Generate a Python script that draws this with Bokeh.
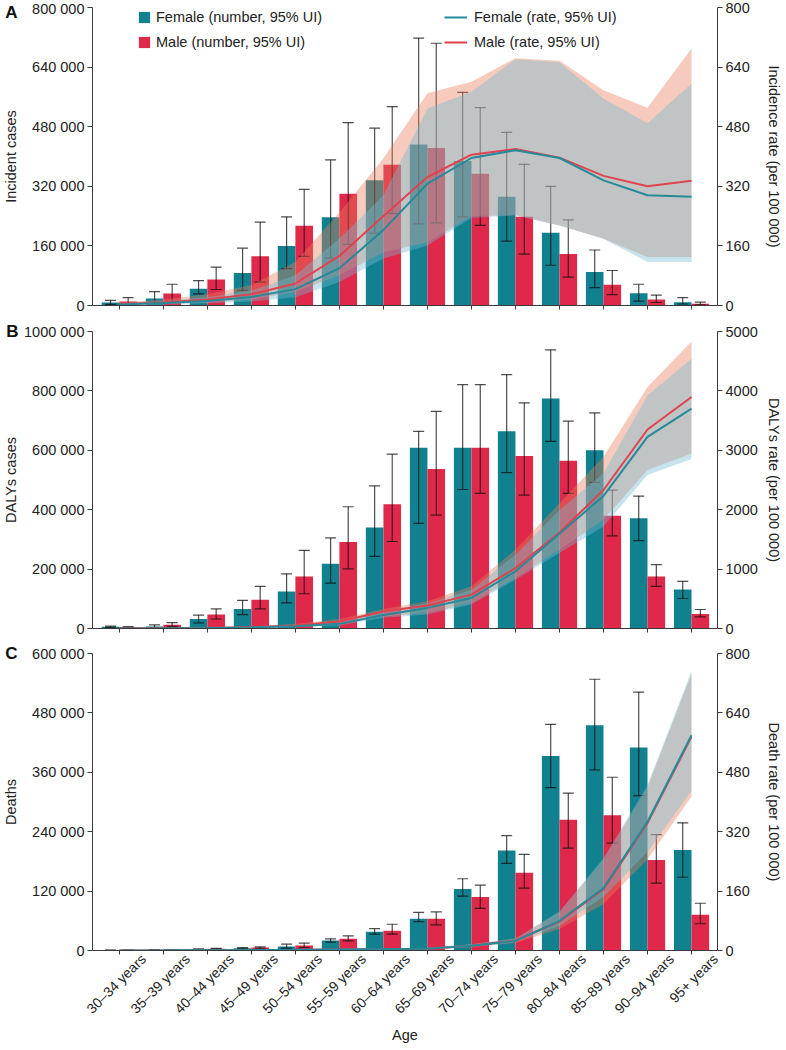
import math
from bokeh.plotting import figure
from bokeh.models import (ColumnDataSource, Range1d, LinearAxis, FixedTicker,
                          Legend, LegendItem)
from bokeh.layouts import column
from bokeh.transform import dodge
from bokeh.embed import file_html
from bokeh.resources import INLINE

# ---------------- data ----------------
ages = ["30–34 years", "35–39 years", "40–44 years", "45–49 years", "50–54 years",
        "55–59 years", "60–64 years", "65–69 years", "70–74 years", "75–79 years",
        "80–84 years", "85–89 years", "90–94 years", "95+ years"]

# Panel A: incidence
inc_f = [8000, 19000, 45000, 87000, 160000, 237000, 336000, 432000, 388000, 292000, 195000, 90000, 33000, 9000]
inc_f_lo = [3000, 8000, 31000, 41000, 99000, 127000, 194000, 219000, 238000, 173000, 108000, 48000, 12000, 4000]
inc_f_hi = [14000, 37000, 67000, 154000, 238000, 391000, 476000, 718000, 572000, 465000, 320000, 149000, 57000, 21000]
inc_m = [11000, 32000, 70000, 132000, 214000, 300000, 378000, 423000, 354000, 238000, 138000, 56000, 16000, 4500]
inc_m_lo = [4000, 9000, 43000, 63000, 132000, 164000, 247000, 222000, 215000, 138000, 76000, 29000, 8000, 2000]
inc_m_hi = [21000, 57000, 103000, 224000, 312000, 491000, 534000, 704000, 531000, 379000, 230000, 94000, 28000, 9000]
inc_rate_f = [3, 7, 12, 23, 44, 100, 203, 327, 396, 417, 396, 336, 296, 292]
inc_rate_f_lo = [1, 3, 6, 11, 22, 63, 126, 161, 235, 242, 215, 179, 117, 117]
inc_rate_f_hi = [6, 12, 22, 40, 81, 180, 296, 529, 574, 661, 653, 556, 489, 596]
inc_rate_m = [4, 8, 16, 30, 59, 133, 240, 345, 405, 420, 397, 348, 320, 335]
inc_rate_m_lo = [2, 4, 8, 16, 36, 81, 143, 170, 240, 242, 215, 179, 130, 130]
inc_rate_m_hi = [8, 16, 30, 55, 117, 250, 395, 570, 601, 664, 657, 578, 531, 690]

# Panel B: DALYs
daly_f = [6000, 7000, 32000, 66000, 125000, 218000, 340000, 609000, 609000, 664000, 774000, 600000, 371000, 131000]
daly_f_lo = [4000, 3000, 19000, 47000, 86000, 153000, 243000, 354000, 468000, 525000, 630000, 492000, 296000, 101000]
daly_f_hi = [8000, 12500, 45000, 95000, 184000, 305000, 480000, 664000, 821000, 855000, 938000, 726000, 446000, 159000]
daly_m = [4500, 13000, 47000, 97000, 175000, 291000, 418000, 537000, 609000, 581000, 565000, 380000, 175000, 49000]
daly_m_lo = [3000, 7000, 32000, 66000, 117000, 201000, 293000, 382000, 455000, 449000, 455000, 312000, 142000, 39000]
daly_m_hi = [6000, 20000, 66000, 142000, 263000, 410000, 587000, 731000, 821000, 760000, 698000, 466000, 215000, 64000]
daly_rate_f = [2, 4, 8, 18, 38, 78, 229, 347, 515, 962, 1594, 2232, 3227, 3702]
daly_rate_f_lo = [1, 2, 4, 10, 22, 50, 179, 235, 403, 822, 1270, 1717, 2584, 2852]
daly_rate_f_hi = [3, 6, 12, 28, 58, 110, 300, 420, 654, 1242, 1997, 2612, 3926, 4541]
daly_rate_m = [3, 5, 10, 24, 50, 117, 285, 386, 570, 1018, 1616, 2332, 3350, 3898]
daly_rate_m_lo = [2, 3, 6, 14, 30, 75, 200, 260, 430, 850, 1325, 1829, 2668, 2947]
daly_rate_m_hi = [4, 8, 15, 35, 75, 160, 330, 459, 710, 1325, 2108, 2891, 4066, 4832]

# Panel C: deaths
death_f = [500, 1000, 2700, 4700, 8000, 20000, 38000, 64000, 124000, 202000, 393000, 455000, 410000, 203000]
death_f_lo = [300, 700, 2000, 3500, 4700, 17000, 33000, 58500, 110000, 176000, 329000, 365000, 313000, 148000]
death_f_hi = [800, 1400, 3500, 6000, 12800, 23500, 44000, 77000, 145000, 232000, 457000, 548000, 522000, 258000]
death_m = [400, 1200, 3400, 6000, 10000, 23500, 40000, 64000, 108000, 157000, 264000, 273000, 183000, 72000]
death_m_lo = [200, 800, 2500, 4500, 6000, 19500, 33000, 51800, 85000, 126000, 207000, 217000, 136000, 54000]
death_m_hi = [700, 1700, 4300, 7500, 14800, 29600, 53000, 78000, 132000, 194000, 318000, 350000, 234000, 95500]
death_rate_f = [0.3, 0.6, 1, 1.5, 2, 3, 4, 5, 13, 26, 80, 168, 347, 580]
death_rate_f_lo = [0.1, 0.3, 0.6, 1, 1.4, 2, 3, 4, 10, 22, 66, 145, 265, 430]
death_rate_f_hi = [0.5, 1, 1.5, 2.2, 3, 4, 6, 7, 17, 32, 106, 249, 446, 753]
death_rate_m = [0.3, 0.6, 1, 1.5, 2, 3, 4, 5, 13, 27, 78, 165, 343, 576]
death_rate_m_lo = [0.1, 0.3, 0.5, 0.8, 1.2, 1.8, 2.5, 3.5, 9, 20, 58, 125, 245, 415]
death_rate_m_hi = [0.5, 1, 1.5, 2.2, 3, 4, 6, 7, 17, 32, 104, 245, 440, 745]

# Tick values and labels
a_left_ticks = [0, 160000, 320000, 480000, 640000, 800000]
a_left_labels = ["0", "160 000", "320 000", "480 000", "640 000", "800 000"]
a_right_ticks = [0, 160, 320, 480, 640, 800]
a_right_labels = ["0", "160", "320", "480", "640", "800"]
b_left_ticks = [0, 200000, 400000, 600000, 800000, 1000000]
b_left_labels = ["0", "200 000", "400 000", "600 000", "800 000", "1000 000"]
b_right_ticks = [0, 1000, 2000, 3000, 4000, 5000]
b_right_labels = ["0", "1000", "2000", "3000", "4000", "5000"]
c_left_ticks = [0, 120000, 240000, 360000, 480000, 600000]
c_left_labels = ["0", "120 000", "240 000", "360 000", "480 000", "600 000"]
c_right_ticks = [0, 160, 320, 480, 640, 800]
c_right_labels = ["0", "160", "320", "480", "640", "800"]

# ---------------- style ----------------
FONT = "Liberation Sans"
FS = "14.5px"
TEAL = "#12818f"
RED = "#e0284a"
LINE_F = "#268a98"
LINE_M = "#e0424f"
BAND_F = "#73b9d2"
BAND_M = "#e87d5a"
AXIS_C = "#3a3a3a"
TEXT_C = "#222222"
X0, X1 = -0.61, len(ages) - 1 + 0.59   # category axis extent
LAB_SHIFT = 0.545                       # rotated names sit right of their tick


def style_axis(ax):
    ax.axis_line_color = AXIS_C
    ax.major_tick_line_color = AXIS_C
    ax.major_tick_out = 5
    ax.major_tick_in = 0
    ax.minor_tick_out = 0
    ax.minor_tick_in = 0
    ax.major_label_text_font = FONT
    ax.major_label_text_font_size = FS
    ax.major_label_text_color = TEXT_C
    ax.major_label_standoff = 3
    ax.axis_label_text_font = FONT
    ax.axis_label_text_font_size = FS
    ax.axis_label_text_font_style = "normal"
    ax.axis_label_text_color = TEXT_C


def bare(ax):
    ax.axis_line_color = None
    ax.major_tick_line_color = None
    ax.major_tick_out = 0
    ax.major_tick_in = 0
    ax.minor_tick_out = 0
    ax.minor_tick_in = 0


def make_panel(letter, left_label, right_label,
               lt, ll, rt, rl, f, flo, fhi, m, mlo, mhi,
               fr, frlo, frhi, mr, mrlo, mrhi,
               top_b, bot_b, frame_h, let_stand, lab_stand, rstand,
               xlabels=False, legend=False):
    xs = list(range(len(ages)))
    src = ColumnDataSource(dict(x=xs, f=f, flo=flo, fhi=fhi, m=m, mlo=mlo, mhi=mhi,
                                fr=fr, frlo=frlo, frhi=frhi, mr=mr, mrlo=mrlo, mrhi=mrhi))
    p = figure(frame_width=625, frame_height=frame_h,
               x_range=Range1d(X0, X1), y_range=Range1d(lt[0], lt[-1]),
               output_backend="svg", toolbar_location=None,
               min_border_left=85, min_border_right=60,
               min_border_top=top_b, min_border_bottom=bot_b)
    p.outline_line_color = None
    p.xgrid.visible = False
    p.ygrid.visible = False
    p.extra_y_ranges = {"rate": Range1d(rt[0], rt[-1])}

    # bars
    rf = p.vbar(x=dodge("x", -0.2), top="f", width=0.4, source=src,
                fill_color=TEAL, line_color=None)
    rm = p.vbar(x=dodge("x", 0.2), top="m", width=0.4, source=src,
                fill_color=RED, line_color=None)
    # error bars
    for off, lo, hi in ((-0.2, "flo", "fhi"), (0.2, "mlo", "mhi")):
        p.segment(x0=dodge("x", off), x1=dodge("x", off), y0=lo, y1=hi, source=src,
                  line_color="#111111", line_alpha=0.75, line_width=1.2)
        for yy in (lo, hi):
            p.scatter(x=dodge("x", off), y=yy, marker="dash", size=11, source=src,
                      line_color="#111111", line_alpha=0.75, line_width=1.2)
    # uncertainty bands of the rates
    p.varea(x="x", y1="mrlo", y2="mrhi", source=src, fill_color=BAND_M,
            fill_alpha=0.4, y_range_name="rate")
    p.varea(x="x", y1="frlo", y2="frhi", source=src, fill_color=BAND_F,
            fill_alpha=0.4, y_range_name="rate")
    # rate lines (female drawn on top)
    lm = p.line(x="x", y="mr", source=src, line_color=LINE_M, line_width=2,
                y_range_name="rate")
    lf = p.line(x="x", y="fr", source=src, line_color=LINE_F, line_width=2,
                y_range_name="rate")

    # left number axis
    ya = p.yaxis[0]
    ya.ticker = FixedTicker(ticks=lt)
    ya.major_label_overrides = {t: s for t, s in zip(lt, ll)}
    style_axis(ya)

    # outer left axis: panel letter (as the label of the top tick) + axis title
    oa = LinearAxis(ticker=FixedTicker(ticks=[lt[-1]]),
                    major_label_overrides={lt[-1]: letter}, axis_label=left_label)
    style_axis(oa)
    bare(oa)
    oa.major_label_text_font_size = "17px"
    oa.major_label_text_font_style = "bold"
    oa.major_label_text_color = "#111111"
    oa.major_label_standoff = let_stand
    oa.axis_label_standoff = lab_stand
    p.add_layout(oa, "left")

    # right rate axis
    ra = LinearAxis(y_range_name="rate", ticker=FixedTicker(ticks=rt),
                    major_label_overrides={t: s for t, s in zip(rt, rl)},
                    axis_label=right_label)
    style_axis(ra)
    ra.axis_label_standoff = rstand
    p.add_layout(ra, "right")

    # category axis: ticks only
    xa = p.xaxis[0]
    xa.ticker = FixedTicker(ticks=xs)
    style_axis(xa)
    xa.major_tick_out = 4
    xa.major_label_text_color = None
    xa.major_label_text_font_size = "1px"
    xa.major_label_standoff = 0
    if xlabels:
        p.extra_x_ranges = {"lab": Range1d(X0 - LAB_SHIFT, X1 - LAB_SHIFT)}
        na = LinearAxis(x_range_name="lab", ticker=FixedTicker(ticks=xs),
                        major_label_overrides={i: a for i, a in enumerate(ages)},
                        axis_label="Age")
        style_axis(na)
        bare(na)
        na.major_label_text_font_size = "14px"
        na.major_label_orientation = math.pi / 4
        na.major_label_standoff = 2
        na.axis_label_standoff = 2
        p.add_layout(na, "below")

    if legend:
        common = dict(padding=0, margin=0, spacing=7, label_height=18,
                      border_line_color=None, background_fill_alpha=0,
                      label_text_font=FONT, label_text_font_size=FS,
                      label_text_color=TEXT_C, orientation="vertical")
        leg1 = Legend(items=[LegendItem(label="Female (number, 95% UI)", renderers=[rf]),
                             LegendItem(label="Male (number, 95% UI)", renderers=[rm])],
                      location=(45, frame_h - 44), glyph_width=14, glyph_height=14,
                      label_standoff=5, **common)
        leg2 = Legend(items=[LegendItem(label="Female (rate, 95% UI)", renderers=[lf]),
                             LegendItem(label="Male (rate, 95% UI)", renderers=[lm])],
                      location=(352, frame_h - 44), glyph_width=23, glyph_height=14,
                      label_standoff=7, **common)
        p.add_layout(leg1, "center")
        p.add_layout(leg2, "center")
    return p


pA = make_panel("A", "Incident cases", "Incidence rate (per 100 000)",
                a_left_ticks, a_left_labels, a_right_ticks, a_right_labels,
                inc_f, inc_f_lo, inc_f_hi, inc_m, inc_m_lo, inc_m_hi,
                inc_rate_f, inc_rate_f_lo, inc_rate_f_hi,
                inc_rate_m, inc_rate_m_lo, inc_rate_m_hi,
                top_b=7, bot_b=16, frame_h=298, let_stand=12, lab_stand=-17,
                rstand=13, legend=True)
pB = make_panel("B", "DALYs cases", "DALYs rate (per 100 000)",
                b_left_ticks, b_left_labels, b_right_ticks, b_right_labels,
                daly_f, daly_f_lo, daly_f_hi, daly_m, daly_m_lo, daly_m_hi,
                daly_rate_f, daly_rate_f_lo, daly_rate_f_hi,
                daly_rate_m, daly_rate_m_lo, daly_rate_m_hi,
                top_b=10, bot_b=9, frame_h=297, let_stand=3, lab_stand=-16, rstand=5)
pC = make_panel("C", "Deaths", "Death rate (per 100 000)",
                c_left_ticks, c_left_labels, c_right_ticks, c_right_labels,
                death_f, death_f_lo, death_f_hi, death_m, death_m_lo, death_m_hi,
                death_rate_f, death_rate_f_lo, death_rate_f_hi,
                death_rate_m, death_rate_m_lo, death_rate_m_hi,
                top_b=16, bot_b=88, frame_h=297, let_stand=12, lab_stand=-17,
                rstand=13, xlabels=True)

layout = column(pA, pB, pC, spacing=0)
open("out.html", "w").write(file_html(layout, INLINE))
